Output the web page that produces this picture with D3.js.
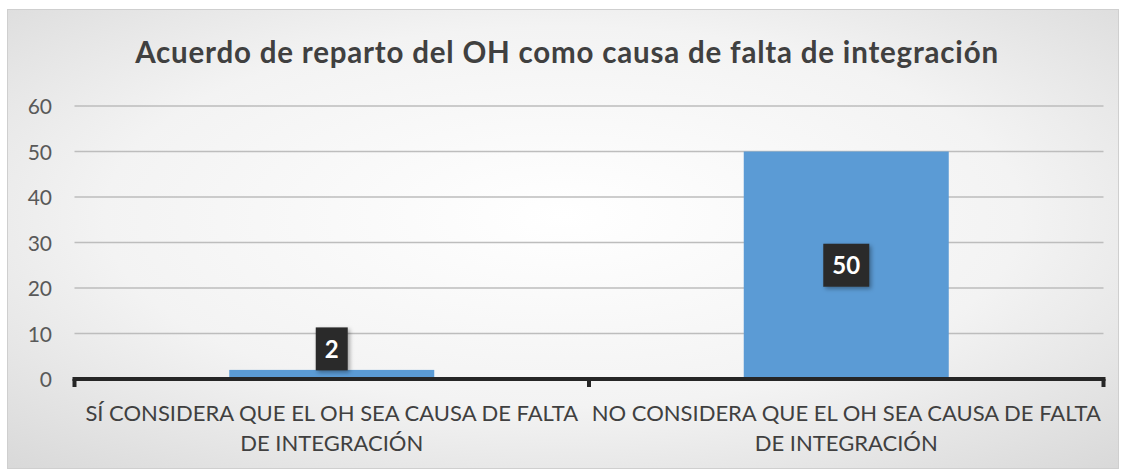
<!DOCTYPE html>
<html>
<head>
<meta charset="utf-8">
<script src="https://cdn.jsdelivr.net/npm/d3@7"></script>
<style>
  html, body { margin: 0; padding: 0; background: #ffffff; }
  svg { display: block; font-family: Lato, "Open Sans", sans-serif; }
</style>
</head>
<body>
<svg id="chart" width="1124" height="472"></svg>
<script>
// Chart data
const title = "Acuerdo de reparto del OH como causa de falta de integración";
const categories = [
  ["SÍ CONSIDERA QUE EL OH SEA CAUSA DE FALTA", "DE INTEGRACIÓN"],
  ["NO CONSIDERA QUE EL OH SEA CAUSA DE FALTA", "DE INTEGRACIÓN"]
];
const values = [2, 50];
const yTicks = [0, 10, 20, 30, 40, 50, 60];

const svg = d3.select("#chart");

// Panel background with soft radial shading
const defs = svg.append("defs");
const grad = defs.append("radialGradient").attr("id", "bg")
  .attr("cx", "50%").attr("cy", "45%").attr("r", "75%");
grad.append("stop").attr("offset", "0%").attr("stop-color", "#ffffff");
grad.append("stop").attr("offset", "55%").attr("stop-color", "#f3f3f3");
grad.append("stop").attr("offset", "100%").attr("stop-color", "#d8d8d8");

const shadow = defs.append("filter").attr("id", "shadow")
  .attr("x", "-30%").attr("y", "-30%").attr("width", "160%").attr("height", "160%");
shadow.append("feDropShadow").attr("dx", 2).attr("dy", 2).attr("stdDeviation", 2)
  .attr("flood-color", "#000").attr("flood-opacity", 0.35);

svg.append("rect")
  .attr("x", 7.5).attr("y", 9.5).attr("width", 1111).attr("height", 459)
  .attr("fill", "url(#bg)").attr("stroke", "#cfcfcf").attr("stroke-width", 1);

// Title
svg.append("text")
  .attr("x", 567).attr("y", 63)
  .attr("text-anchor", "middle")
  .attr("font-size", 29.5).attr("font-weight", "bold")
  .attr("letter-spacing", 0.8)
  .attr("fill", "#404040")
  .text(title);

// Scales
const plot = { left: 74.5, right: 1103.5, top: 106, bottom: 379 };
const x = d3.scaleBand()
  .domain(d3.range(categories.length))
  .range([plot.left, plot.right]);
const y = d3.scaleLinear().domain([0, 60]).range([plot.bottom, plot.top]);
const barW = 205;

// Gridlines
svg.append("g").selectAll("line")
  .data(yTicks.filter(d => d > 0))
  .join("line")
  .attr("x1", plot.left).attr("x2", plot.right)
  .attr("y1", d => y(d)).attr("y2", d => y(d))
  .attr("stroke", "#bdbdbd").attr("stroke-width", 1.5);

// Y axis labels
svg.append("g").selectAll("text")
  .data(yTicks)
  .join("text")
  .attr("x", 52).attr("y", d => y(d) + 1)
  .attr("dy", "0.35em")
  .attr("text-anchor", "end")
  .attr("font-size", 21)
  .attr("fill", "#595959")
  .text(d => d);

// Bars
svg.append("g").selectAll("rect")
  .data(values)
  .join("rect")
  .attr("x", (d, i) => x(i) + x.bandwidth() / 2 - barW / 2)
  .attr("y", d => y(d))
  .attr("width", barW)
  .attr("height", d => y(0) - y(d))
  .attr("fill", "#5b9bd5");

// X axis line and ticks
const axis = svg.append("g").attr("stroke", "#262626");
axis.append("line")
  .attr("x1", plot.left - 2).attr("x2", plot.right + 2)
  .attr("y1", y(0)).attr("y2", y(0))
  .attr("stroke-width", 4);
const boundaries = [plot.left, x(1), plot.right];
axis.selectAll("line.tick")
  .data(boundaries)
  .join("line").attr("class", "tick")
  .attr("x1", d => d).attr("x2", d => d)
  .attr("y1", y(0)).attr("y2", y(0) + 8)
  .attr("stroke-width", 4);

// Category labels
const cat = svg.append("g").selectAll("text")
  .data(categories)
  .join("text")
  .attr("text-anchor", "middle")
  .attr("font-size", 22)
  .attr("fill", "#404040");
cat.each(function (lines, i) {
  const cx = x(i) + x.bandwidth() / 2;
  d3.select(this).selectAll("tspan")
    .data(lines)
    .join("tspan")
    .attr("x", cx)
    .attr("y", (d, j) => 421 + j * 30)
    .text(d => d);
});

// Value labels: dark boxes with white text
const labelG = svg.append("g");
values.forEach((v, i) => {
  const cx = x(i) + x.bandwidth() / 2;
  const txt = String(v);
  const bw = 18 + txt.length * 14;
  const bh = 43;
  // short bars carry the label just above, tall bars carry it centred
  const cy = (y(0) - y(v)) > bh + 10 ? (y(v) + y(0)) / 2 : y(v) - bh / 2 + 0.5;
  const g = labelG.append("g");
  g.append("rect")
    .attr("x", cx - bw / 2).attr("y", cy - bh / 2)
    .attr("width", bw).attr("height", bh)
    .attr("fill", "#2b2b2b")
    .attr("filter", "url(#shadow)");
  g.append("text")
    .attr("x", cx).attr("y", cy)
    .attr("dy", "0.36em")
    .attr("text-anchor", "middle")
    .attr("font-size", 24).attr("font-weight", "bold")
    .attr("fill", "#ffffff")
    .text(txt);
});
</script>
</body>
</html>
